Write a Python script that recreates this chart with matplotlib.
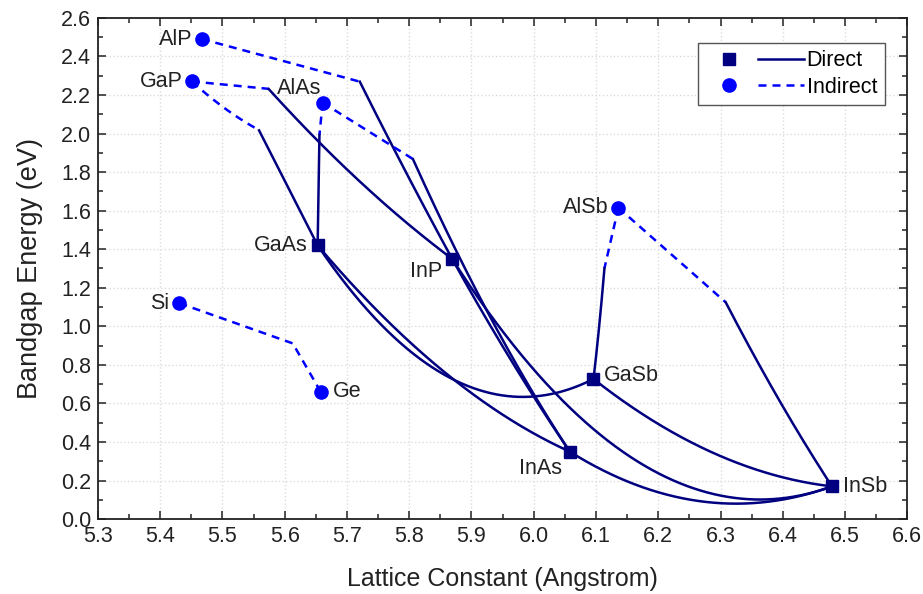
import numpy as np
import matplotlib
matplotlib.use('Agg')
import matplotlib.pyplot as plt
from matplotlib.lines import Line2D
from matplotlib.legend_handler import HandlerTuple
from matplotlib.ticker import MultipleLocator, FormatStrFormatter

plt.rcParams['font.family'] = ['Liberation Sans', 'DejaVu Sans']

# III-V binaries: lattice constant (A), Gamma gap and X gap (eV)
names = ['AlP', 'GaP', 'AlAs', 'GaAs', 'InP', 'AlSb', 'GaSb', 'InAs', 'InSb']
lattice = [5.467, 5.451, 5.661, 5.653, 5.869, 6.136, 6.096, 6.058, 6.479]
e_gamma = [4.03, 2.70, 3.00, 1.42, 1.35, 2.31, 0.727, 0.35, 0.17]
e_x = [2.49, 2.27, 2.16, 1.90, 2.14, 1.615, 1.056, 1.36, 0.64]

# ternary alloys: end members, Gamma bowing, X bowing
alloy_a = ['AlP', 'GaP', 'GaP', 'AlAs', 'AlAs', 'GaAs', 'InP', 'InP', 'GaAs', 'AlSb', 'AlSb', 'GaSb', 'InAs']
alloy_b = ['InP', 'InP', 'GaAs', 'GaAs', 'InAs', 'InAs', 'InAs', 'InSb', 'GaSb', 'GaSb', 'InSb', 'InSb', 'InSb']
bow_gamma = [0.30, 0.34, 0.0, 0.0, 0.71, 0.477, 0.10, 1.9, 1.42, 0.5, 0.44, 0.415, 0.67]
bow_x = [0.0, 0.0, 0.22, 0.0, 0.0, 0.0, 0.0, 0.0, 0.0, 0.0, 0.0, 0.0, 0.0]

# group IV: Si, Ge (X and L valleys, both indirect)
iv_names = ['Si', 'Ge']
iv_lattice = [5.431, 5.658]
iv_x = [1.12, 0.86]
iv_l = [1.93, 0.66]

navy = '#000080'
blue = '#0000ff'
dash = (0, (3.2, 2.4))
lw = 1.8
txt = '#222222'

fig = plt.figure(figsize=(9.23, 5.94), dpi=100)
ax = fig.add_axes([0.106, 0.126, 0.877, 0.844])

t = np.linspace(0, 1, 600)
idx = {n: i for i, n in enumerate(names)}

for A, B, bg, bx in zip(alloy_a, alloy_b, bow_gamma, bow_x):
    i, j = idx[A], idx[B]
    a = (1 - t) * lattice[i] + t * lattice[j]
    eg = (1 - t) * e_gamma[i] + t * e_gamma[j] - bg * t * (1 - t)
    ex = (1 - t) * e_x[i] + t * e_x[j] - bx * t * (1 - t)
    direct = eg <= ex
    e = np.minimum(eg, ex)
    # split into runs on the same band
    change = np.where(np.diff(direct.astype(int)) != 0)[0]
    starts = np.r_[0, change + 1]
    ends = np.r_[change + 1, len(t) - 1]
    for s, en in zip(starts, ends):
        seg = slice(s, en + 1)
        if direct[s]:
            ax.plot(a[seg], e[seg], color=navy, lw=lw, zorder=2)
        else:
            ax.plot(a[seg], e[seg], color=blue, lw=lw, ls=dash, zorder=2)

# SiGe
a = (1 - t) * iv_lattice[0] + t * iv_lattice[1]
e = np.minimum((1 - t) * iv_x[0] + t * iv_x[1], (1 - t) * iv_l[0] + t * iv_l[1])
ax.plot(a, e, color=blue, lw=lw, ls=dash, zorder=2)

# markers
for n, a0, g0, x0 in zip(names, lattice, e_gamma, e_x):
    if g0 <= x0:
        ax.plot(a0, g0, 's', color=navy, ms=8.5, zorder=3)
    else:
        ax.plot(a0, x0, 'o', color=blue, ms=9.5, zorder=3)
ax.plot(iv_lattice[0], iv_x[0], 'o', color=blue, ms=9.5, zorder=3)
ax.plot(iv_lattice[1], iv_l[1], 'o', color=blue, ms=9.5, zorder=3)

# labels
label_offsets = {
    'AlP': (-9, 0, 'right'), 'GaP': (-9, 0, 'right'), 'AlAs': (-23, 14, 'center'),
    'GaAs': (-10, 0, 'right'), 'InP': (-10, -13, 'right'), 'AlSb': (-10, 0, 'right'),
    'GaSb': (10, 3, 'left'), 'InAs': (-29, -17, 'center'), 'InSb': (11, 0, 'left'),
}
for n, a0, g0, x0 in zip(names, lattice, e_gamma, e_x):
    dx, dy, ha = label_offsets[n]
    ax.annotate(n, (a0, min(g0, x0)), xytext=(dx, dy), textcoords='offset pixels',
                ha=ha, va='center', fontsize=15.5, color=txt, zorder=4)
ax.annotate('Si', (iv_lattice[0], iv_x[0]), xytext=(-10, 0), textcoords='offset pixels',
            ha='right', va='center', fontsize=15.5, color=txt)
ax.annotate('Ge', (iv_lattice[1], iv_l[1]), xytext=(12, 0), textcoords='offset pixels',
            ha='left', va='center', fontsize=15.5, color=txt)

ax.set_xlim(5.3, 6.6)
ax.set_ylim(0, 2.6)
ax.xaxis.set_major_locator(MultipleLocator(0.1))
ax.xaxis.set_minor_locator(MultipleLocator(0.05))
ax.yaxis.set_major_locator(MultipleLocator(0.2))
ax.yaxis.set_minor_locator(MultipleLocator(0.1))
ax.xaxis.set_major_formatter(FormatStrFormatter('%.1f'))
ax.yaxis.set_major_formatter(FormatStrFormatter('%.1f'))
ax.tick_params(which='both', direction='in', top=True, right=True, width=1.1, colors=txt)
ax.tick_params(which='major', length=6, labelsize=15.5, pad=5)
ax.tick_params(which='minor', length=3.5)
ax.grid(True, which='major', color='#dcdcdc', ls=':', lw=1.0, zorder=0)
for sp in ax.spines.values():
    sp.set_linewidth(1.3)
    sp.set_color(txt)

ax.set_xlabel('Lattice Constant (Angstrom)', fontsize=18, labelpad=14, color=txt)
ax.set_ylabel('Bandgap Energy (eV)', fontsize=19.5, labelpad=13, color=txt)

h_dir = (Line2D([], [], marker='s', ls='none', color=navy, ms=8.5),
         Line2D([], [], color=navy, lw=lw))
h_ind = (Line2D([], [], marker='o', ls='none', color=blue, ms=9.5),
         Line2D([], [], color=blue, lw=lw, ls=dash))
leg = ax.legend([h_dir, h_ind], ['Direct', 'Indirect'],
                handler_map={tuple: HandlerTuple(ndivide=None, pad=0.3)},
                handlelength=4.6, handletextpad=0.1, fontsize=15.5,
                loc='upper right', bbox_to_anchor=(0.972, 0.95), borderaxespad=0,
                fancybox=False, edgecolor='#555555', framealpha=1,
                borderpad=0.35, labelspacing=0.25)
leg.get_frame().set_linewidth(1.0)

fig.savefig('out.png', dpi=100)
